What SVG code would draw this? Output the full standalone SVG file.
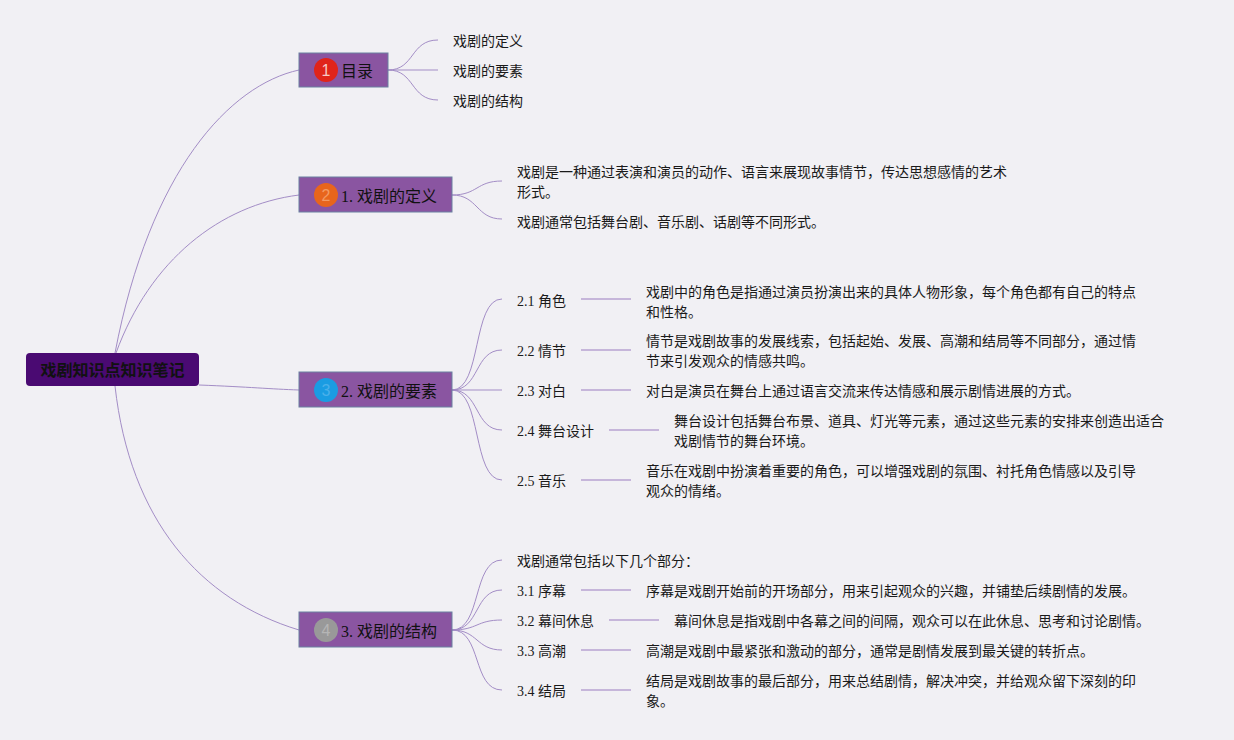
<svg xmlns="http://www.w3.org/2000/svg" width="1234" height="740" viewBox="0 0 1234 740">
<style>
.bg{fill:#f1f0f4}
.t{font-family:"Liberation Serif","Noto Sans CJK SC",serif;font-size:14px;fill:#1a1a1a;dominant-baseline:central}
.sec{fill:#8a55a1;stroke:#6b80a0;stroke-width:1}
.st{font-family:"Liberation Serif","Noto Sans CJK SC",serif;font-size:16px;fill:#111;dominant-baseline:central}
.num{font-family:"Liberation Sans","Noto Sans",sans-serif;font-size:16px;text-anchor:middle;dominant-baseline:central}
.c{fill:none;stroke:#a38dc6;stroke-width:1}
.s{fill:none;stroke:#c6b6da;stroke-width:2}
</style>
<rect class="bg" x="0" y="0" width="1234" height="740"/>
<g id="connectors">
<path class="c" d="M115,353 C150,170 230,85 299,70"/>
<path class="c" d="M116,353 C150,260 220,205 299,195"/>
<path class="c" d="M199,385 C250,387 270,389 299,390"/>
<path class="c" d="M115,386 C130,520 200,600 299,630"/>
<path class="c" d="M388,70 C415,70 410,40 438,40"/>
<path class="c" d="M388,70 L438,70"/>
<path class="c" d="M388,70 C415,70 410,100 438,100"/>
<path class="c" d="M452,195 C478,195 476,181 502,181"/>
<path class="c" d="M452,195 C478,195 476,219 502,219"/>
<path class="c" d="M452,390 C482,390 472,299 502,299"/>
<path class="c" d="M452,390 C480,390 474,350 502,350"/>
<path class="c" d="M452,390 L502,390"/>
<path class="c" d="M452,390 C480,390 474,430 502,430"/>
<path class="c" d="M452,390 C482,390 472,480 502,480"/>
<path class="c" d="M452,630 C482,630 472,560 502,560"/>
<path class="c" d="M452,630 C480,630 474,590 502,590"/>
<path class="c" d="M452,630 C478,630 476,620 502,620"/>
<path class="c" d="M452,630 C478,630 476,650 502,650"/>
<path class="c" d="M452,630 C482,630 472,690 502,690"/>
<path class="s" d="M581,299 H631"/>
<path class="s" d="M581,350 H631"/>
<path class="s" d="M581,390 H631"/>
<path class="s" d="M609,430 H659"/>
<path class="s" d="M581,480 H631"/>
<path class="s" d="M581,590 H631"/>
<path class="s" d="M609,620 H659"/>
<path class="s" d="M581,650 H631"/>
<path class="s" d="M581,690 H631"/>
</g>
<g id="root">
<rect x="26" y="353" width="173" height="33" rx="4" fill="#4a0a72"/>
<text x="112.5" y="370" text-anchor="middle" font-family="Liberation Sans,'Noto Sans CJK SC',sans-serif" font-size="16" font-weight="bold" fill="#111" dominant-baseline="central">戏剧知识点知识笔记</text>
</g>
<g id="sec-toc">
<rect class="sec" x="299" y="53" width="89" height="34"/>
<circle cx="326" cy="70" r="12" fill="#e0241a"/>
<text class="num" x="326" y="70" fill="#f6c9c4">1</text>
<text class="st" x="341" y="71">目录</text>
</g>
<g id="sec-def">
<rect class="sec" x="299" y="177" width="153" height="35"/>
<circle cx="326" cy="195" r="12" fill="#e8651c"/>
<text class="num" x="326" y="195" fill="#f39a62">2</text>
<text class="st" x="341" y="196">1. 戏剧的定义</text>
</g>
<g id="sec-elem">
<rect class="sec" x="299" y="372" width="153" height="35"/>
<circle cx="326" cy="390" r="12" fill="#1a9ce2"/>
<text class="num" x="326" y="390" fill="#4ab0ea">3</text>
<text class="st" x="341" y="391">2. 戏剧的要素</text>
</g>
<g id="sec-struct">
<rect class="sec" x="299" y="612" width="153" height="35"/>
<circle cx="326" cy="630" r="12" fill="#999999"/>
<text class="num" x="326" y="630" fill="#b5b5b5">4</text>
<text class="st" x="341" y="631">3. 戏剧的结构</text>
</g>
<g id="toc-items">
<text class="t" x="453" y="41">戏剧的定义</text>
<text class="t" x="453" y="71">戏剧的要素</text>
<text class="t" x="453" y="101">戏剧的结构</text>
</g>
<g id="def-items">
<text class="t" x="517" y="172">戏剧是一种通过表演和演员的动作、语言来展现故事情节，传达思想感情的艺术</text>
<text class="t" x="517" y="192">形式。</text>
<text class="t" x="517" y="222">戏剧通常包括舞台剧、音乐剧、话剧等不同形式。</text>
</g>
<g id="elem-items">
<text class="t" x="517" y="301">2.1 角色</text>
<text class="t" x="646" y="292">戏剧中的角色是指通过演员扮演出来的具体人物形象，每个角色都有自己的特点</text>
<text class="t" x="646" y="312">和性格。</text>
<text class="t" x="517" y="351">2.2 情节</text>
<text class="t" x="646" y="341">情节是戏剧故事的发展线索，包括起始、发展、高潮和结局等不同部分，通过情</text>
<text class="t" x="646" y="361">节来引发观众的情感共鸣。</text>
<text class="t" x="517" y="391">2.3 对白</text>
<text class="t" x="646" y="391">对白是演员在舞台上通过语言交流来传达情感和展示剧情进展的方式。</text>
<text class="t" x="517" y="431">2.4 舞台设计</text>
<text class="t" x="674" y="421">舞台设计包括舞台布景、道具、灯光等元素，通过这些元素的安排来创造出适合</text>
<text class="t" x="674" y="441">戏剧情节的舞台环境。</text>
<text class="t" x="517" y="481">2.5 音乐</text>
<text class="t" x="646" y="471">音乐在戏剧中扮演着重要的角色，可以增强戏剧的氛围、衬托角色情感以及引导</text>
<text class="t" x="646" y="491">观众的情绪。</text>
</g>
<g id="struct-items">
<text class="t" x="517" y="561">戏剧通常包括以下几个部分：</text>
<text class="t" x="517" y="591">3.1 序幕</text>
<text class="t" x="646" y="591">序幕是戏剧开始前的开场部分，用来引起观众的兴趣，并铺垫后续剧情的发展。</text>
<text class="t" x="517" y="621">3.2 幕间休息</text>
<text class="t" x="674" y="621">幕间休息是指戏剧中各幕之间的间隔，观众可以在此休息、思考和讨论剧情。</text>
<text class="t" x="517" y="651">3.3 高潮</text>
<text class="t" x="646" y="651">高潮是戏剧中最紧张和激动的部分，通常是剧情发展到最关键的转折点。</text>
<text class="t" x="517" y="691">3.4 结局</text>
<text class="t" x="646" y="681">结局是戏剧故事的最后部分，用来总结剧情，解决冲突，并给观众留下深刻的印</text>
<text class="t" x="646" y="701">象。</text>
</g>
</svg>
